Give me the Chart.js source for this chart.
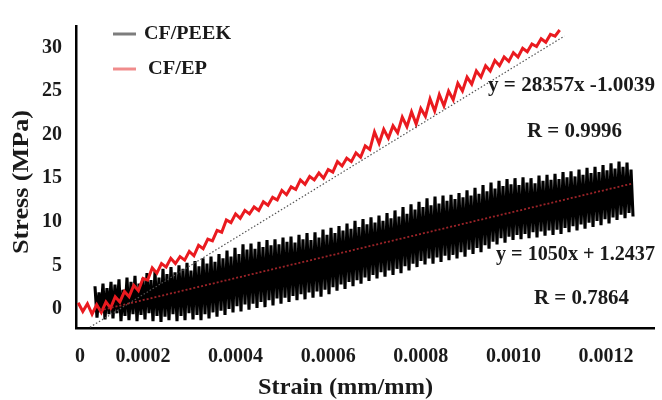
<!DOCTYPE html>
<html lang="en">

<head>
    <meta charset="UTF-8">
    <title>Stress vs Strain</title>
    <script src="https://cdn.jsdelivr.net/npm/chart.js"></script>
    <style>
        * {
            margin: 0;
            padding: 0;
            box-sizing: border-box;
        }

        body {
            background-color: #fff;
        }

        .chart-box {
            width: 662px;
            height: 400px;
        }
    </style>
</head>

<body>
    <div class="chart-box">
        <canvas id="stressChart" width="662" height="400"></canvas>
    </div>

    <script>
        // axis ticks
        const strainTicks = [0.000064, 0.0002, 0.0004, 0.0006, 0.0008, 0.0010, 0.0012];
        const strainTickLabels = ['0', '0.0002', '0.0004', '0.0006', '0.0008', '0.0010', '0.0012'];
        const stressTicks = [0, 5, 10, 15, 20, 25, 30];

        // CF/EP curve, sampled every 0.00001 strain
        const epStrainStart = 0.00006;
        const epStrainStep = 0.00001;
        const epStress = [
            0.7, -0.3, 0.6, -0.6, 0.5, -0.4, 0.8, 0.1, 1.4, 0.8,
            2.0, 1.4, 2.7, 2.1, 3.5, 3.3, 4.7, 4.1, 5.2, 4.8,
            5.8, 5.2, 6.0, 5.6, 6.6, 6.1, 7.3, 6.9, 8.0, 7.8,
            9.0, 8.8, 10.2, 9.9, 10.9, 10.4, 11.3, 10.9, 11.7, 11.3,
            12.3, 11.9, 12.8, 12.5, 13.6, 13.1, 14.0, 13.7, 14.8, 14.3,
            15.2, 14.8, 15.6, 15.0, 16.0, 15.7, 16.9, 16.4, 17.3, 16.9,
            17.9, 17.4, 18.7, 18.3, 20.3, 19.0, 20.6, 19.6, 21.0, 20.2,
            22.0, 20.9, 22.6, 21.2, 23.0, 22.1, 24.1, 22.7, 24.6, 23.3,
            25.0, 24.0, 25.9, 25.0, 26.6, 25.8, 27.3, 26.6, 27.9, 27.3,
            28.5, 27.9, 28.9, 28.4, 29.4, 28.9, 29.9, 29.5, 30.4, 30.1,
            31.0, 30.6, 31.5, 31.3, 32.0
        ];

        // CF/PEEK curve: alternating peak / trough samples
        const peekStrainStart = 0.0000963;
        const peekStrainStep = 0.00000432;
        const peekPeaks = [
            2.6, 1.9, 2.9, 2.4, 3.1,
            2.8, 3.4, 2.2, 3.6, 3.1,
            3.8, 2.9, 3.5, 4.1, 3.3,
            4.3, 3.6, 4.6, 4.0, 4.8,
            4.2, 5.0, 4.6, 5.3, 4.4,
            5.5, 4.9, 5.8, 5.2, 6.0,
            5.4, 6.3, 5.8, 6.7, 6.0,
            7.0, 6.3, 7.4, 6.8, 7.5,
            6.9, 7.7, 7.1, 7.9, 7.3,
            8.0, 7.4, 8.2, 7.7, 8.3,
            7.6, 8.5, 8.0, 8.7, 7.9,
            8.8, 8.2, 9.1, 8.5, 9.3,
            8.7, 9.5, 9.0, 9.8, 9.2,
            10.1, 9.4, 10.3, 9.7, 10.5,
            9.9, 10.7, 10.1, 11.0, 10.4,
            11.3, 10.6, 11.7, 10.9, 12.0,
            11.4, 12.3, 11.7, 12.7, 11.9,
            12.9, 12.1, 13.0, 12.4, 13.1,
            12.6, 13.3, 12.8, 13.6, 13.0,
            13.9, 13.2, 14.2, 13.5, 14.5,
            13.8, 14.7, 14.1, 14.9, 14.3,
            15.0, 14.2, 15.1, 14.5, 15.0,
            14.4, 15.3, 14.7, 15.4, 14.8,
            15.5, 14.9, 15.7, 15.1, 15.8,
            15.2, 16.0, 15.4, 16.2, 15.6,
            16.3, 15.7, 16.5, 15.9, 16.7,
            16.1, 16.9, 16.3, 16.8, 16.0
        ];
        const peekTroughs = [
            -1.0, -0.4, -1.2, -0.6, -1.1,
            -0.5, -1.4, -0.8, -1.3, -0.6,
            -1.4, -0.7, -1.2, -0.5, -1.4,
            -0.8, -1.5, -0.9, -1.3, -0.6,
            -1.4, -0.8, -1.3, -0.5, -1.2,
            -0.7, -1.3, -0.6, -1.1, -0.4,
            -0.9, -0.2, -0.7, 0.0, -0.4,
            0.3, -0.3, 0.5, -0.1, 0.6,
            0.1, 0.8, 0.2, 1.0, 0.4,
            1.2, 0.6, 1.3, 0.8, 1.5,
            1.0, 1.7, 1.1, 1.9, 1.3,
            2.0, 1.4, 2.2, 1.7, 2.5,
            2.1, 2.8, 2.3, 3.1, 2.6,
            3.3, 2.9, 3.6, 3.2, 3.9,
            3.5, 4.2, 3.7, 4.4, 3.9,
            4.6, 4.1, 4.9, 4.4, 5.2,
            4.8, 5.5, 5.1, 5.8, 5.2,
            5.9, 5.4, 6.1, 5.6, 6.2,
            5.8, 6.5, 6.0, 6.8, 6.3,
            7.0, 6.5, 7.3, 6.9, 7.7,
            7.4, 8.1, 7.6, 8.3, 7.9,
            8.5, 8.0, 8.6, 8.1, 8.8,
            8.2, 8.9, 8.4, 9.0, 8.5,
            9.1, 8.6, 9.3, 8.8, 9.5,
            9.0, 9.7, 9.2, 9.9, 9.4,
            10.1, 9.6, 10.3, 9.8, 10.5,
            10.2, 10.8, 10.4, 11.0, 10.6
        ];

        // linear fit lines (end points)
        const epFitStrain = [0.0000855, 0.00111];
        const epFitStress = [-2.1, 31.3];
        const peekFitStrain = [0.000107, 0.001258];
        const peekFitStress = [-0.17, 14.4];

        const epPoints = epStress.map((v, i) => ({ x: epStrainStart + i * epStrainStep, y: v }));
        const peekPoints = [];
        peekPeaks.forEach((v, i) => {
            peekPoints.push({ x: peekStrainStart + 2 * i * peekStrainStep, y: v });
            peekPoints.push({ x: peekStrainStart + (2 * i + 1) * peekStrainStep, y: peekTroughs[i] });
        });
        const epFit = epFitStrain.map((v, i) => ({ x: v, y: epFitStress[i] }));
        const peekFit = peekFitStrain.map((v, i) => ({ x: v, y: peekFitStress[i] }));

        const serif = '"Liberation Serif", "Times New Roman", serif';
        const textColor = '#1a1a1a';

        // draw text squeezed/stretched to a box width
        function fitText(ctx, text, left, right, cy, size) {
            ctx.font = 'bold ' + size + 'px ' + serif;
            const w = ctx.measureText(text).width;
            ctx.save();
            ctx.translate(left, cy);
            ctx.scale((right - left) / w, 1);
            ctx.textAlign = 'left';
            ctx.textBaseline = 'middle';
            ctx.fillStyle = textColor;
            ctx.fillText(text, 0, 0);
            ctx.restore();
        }

        const notes = {
            id: 'notes',
            afterDraw(chart) {
                const ctx = chart.ctx;
                // legend
                ctx.save();
                ctx.lineWidth = 3;
                ctx.strokeStyle = '#7d7d7d';
                ctx.beginPath(); ctx.moveTo(113, 34); ctx.lineTo(136, 34); ctx.stroke();
                ctx.strokeStyle = '#f08c8c';
                ctx.beginPath(); ctx.moveTo(113, 69); ctx.lineTo(136, 69); ctx.stroke();
                ctx.restore();
                fitText(ctx, 'CF/PEEK', 144, 231, 34, 19);
                fitText(ctx, 'CF/EP', 148, 207, 69, 19);

                // fit equations
                fitText(ctx, 'y = 28357x -1.0039', 488, 655, 86, 21);
                fitText(ctx, 'R = 0.9996', 527, 622, 132, 21);
                fitText(ctx, 'y = 1050x + 1.2437', 496, 655, 255, 21);
                fitText(ctx, 'R = 0.7864', 534, 629, 299, 21);

                // axis titles
                fitText(ctx, 'Strain (mm/mm)', 258, 433, 388, 24);
                ctx.save();
                ctx.translate(22, 182);
                ctx.rotate(-Math.PI / 2);
                fitText(ctx, 'Stress (MPa)', -72, 72, 0, 24);
                ctx.restore();
            }
        };

        const tickFont = { family: serif, size: 20, weight: 'bold' };

        const ctx = document.getElementById('stressChart').getContext('2d');
        const stressChart = new Chart(ctx, {
            type: 'line',
            data: {
                datasets: [{
                    label: 'CF/PEEK fit',
                    data: peekFit,
                    borderColor: '#9b2328',
                    borderWidth: 1.8,
                    borderDash: [2, 2]
                }, {
                    label: 'CF/EP fit',
                    data: epFit,
                    borderColor: '#555',
                    borderWidth: 1.2,
                    borderDash: [1.5, 2]
                }, {
                    label: 'CF/EP',
                    data: epPoints,
                    borderColor: '#ea1a1f',
                    borderWidth: 3
                }, {
                    label: 'CF/PEEK',
                    data: peekPoints,
                    borderColor: '#000',
                    borderWidth: 3.1
                }]
            },
            options: {
                responsive: false,
                animation: false,
                layout: { padding: { top: 12, right: 8, left: 0, bottom: 0 } },
                elements: {
                    point: { radius: 0 },
                    line: { tension: 0, fill: false }
                },
                plugins: {
                    legend: { display: false },
                    tooltip: { enabled: false }
                },
                scales: {
                    x: {
                        type: 'linear',
                        min: 0.0000553,
                        max: 0.0013037,
                        grid: { display: false, drawTicks: false },
                        border: { display: true, color: '#000', width: 2.5 },
                        afterBuildTicks: axis => { axis.ticks = strainTicks.map(v => ({ value: v })); },
                        afterFit: axis => { axis.height = 72; },
                        ticks: {
                            font: tickFont,
                            color: textColor,
                            padding: 17,
                            maxRotation: 0,
                            autoSkip: false,
                            callback: (v, i) => strainTickLabels[i]
                        }
                    },
                    y: {
                        min: -2.19,
                        max: 32.46,
                        grid: { display: false, drawTicks: false },
                        border: { display: true, color: '#000', width: 2.5 },
                        afterBuildTicks: axis => { axis.ticks = stressTicks.map(v => ({ value: v })); },
                        afterFit: axis => { axis.width = 76; },
                        ticks: {
                            font: tickFont,
                            color: textColor,
                            padding: 14,
                            callback: v => String(v)
                        }
                    }
                }
            },
            plugins: [notes]
        });
    </script>
</body>

</html>
